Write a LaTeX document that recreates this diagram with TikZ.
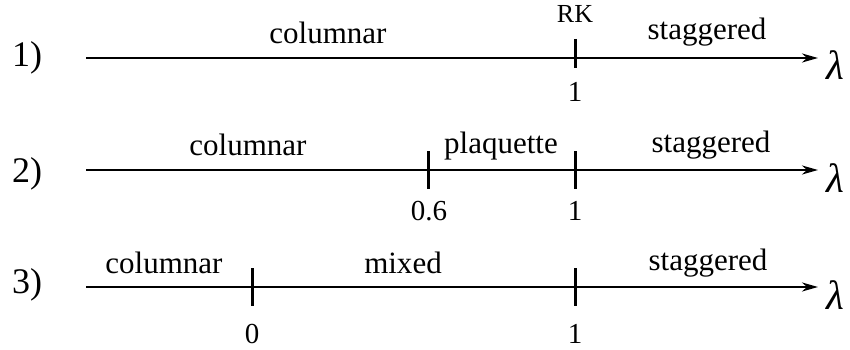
\documentclass[tikz,border=0pt]{standalone}
\usepackage{fontspec}
\setmainfont{Liberation Serif}
\usetikzlibrary{arrows.meta}
\tikzset{
  axis/.style={line width=2pt,-{Stealth[length=16pt,width=9pt,inset=5pt]}},
  tickmark/.style={line width=3pt},
  region/.style={anchor=base,inner sep=0pt,font=\fontsize{31}{31}\selectfont},
  val/.style={anchor=base,inner sep=0pt,font=\fontsize{29}{29}\selectfont},
  rowlabel/.style={anchor=base west,inner sep=0pt,font=\fontsize{36}{36}\selectfont},
  lam/.style={anchor=base west,inner sep=0pt,font=\fontsize{41}{41}\selectfont\itshape},
  rk/.style={anchor=base,inner sep=0pt,font=\fontsize{26}{26}\selectfont}
}
\begin{document}
\begin{tikzpicture}[x=1pt,y=-1pt]
\useasboundingbox (0,0) rectangle (850,350);
% row 1
\node[rowlabel] (r1) at (12,67) {1)};
\coordinate (a1) at (86,58);
\coordinate (b1) at (818,58);
\draw[axis] (a1) -- (b1);
\node[lam] (l1) at (826,80) {λ};
\coordinate (t1a) at (575,39);
\coordinate (t1b) at (575,68);
\draw[tickmark] (t1a) -- (t1b);
\node[region] (c1) at (328,44) {columnar};
\node[rk] (rk1) at (575,23) {RK};
\node[region] (s1) at (707,40) {staggered};
\node[val] (v1) at (575,102) {1};
% row 2
\node[rowlabel] (r2) at (12,182) {2)};
\coordinate (a2) at (86,170);
\coordinate (b2) at (818,170);
\draw[axis] (a2) -- (b2);
\node[lam] (l2) at (826,192) {λ};
\coordinate (t2a) at (428,151);
\coordinate (t2b) at (428,189);
\draw[tickmark] (t2a) -- (t2b);
\coordinate (t3a) at (575,151);
\coordinate (t3b) at (575,189);
\draw[tickmark] (t3a) -- (t3b);
\node[region] (c2) at (248,155) {columnar};
\node[region] (p2) at (501,153) {plaquette};
\node[region] (s2) at (711,152) {staggered};
\node[val] (v2a) at (429,220) {0.6};
\node[val] (v2b) at (575,220) {1};
% row 3
\node[rowlabel] (r3) at (12,293) {3)};
\coordinate (a3) at (86,287);
\coordinate (b3) at (818,287);
\draw[axis] (a3) -- (b3);
\node[lam] (l3) at (826,309) {λ};
\coordinate (t4a) at (252,268);
\coordinate (t4b) at (252,306);
\draw[tickmark] (t4a) -- (t4b);
\coordinate (t5a) at (575,268);
\coordinate (t5b) at (575,306);
\draw[tickmark] (t5a) -- (t5b);
\node[region] (c3) at (164,273) {columnar};
\node[region] (m3) at (403,273) {mixed};
\node[region] (s3) at (708,270) {staggered};
\node[val] (v3a) at (252,343) {0};
\node[val] (v3b) at (575,343) {1};
\end{tikzpicture}
\end{document}
